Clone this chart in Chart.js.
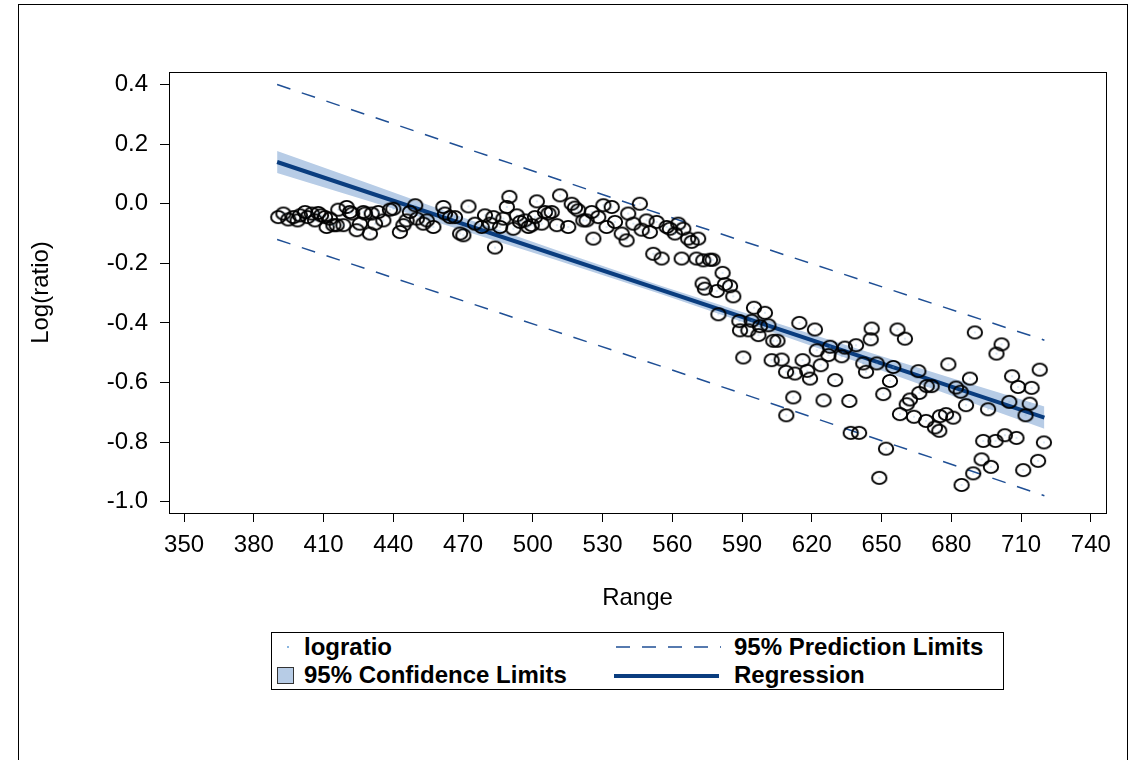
<!DOCTYPE html>
<html lang="en">
<head>
<meta charset="UTF-8">
<title>Log(ratio) vs Range</title>
<script src="https://cdn.jsdelivr.net/npm/chart.js"></script>
<style>
  body { margin: 0; width: 1129px; height: 760px; background: #fff; overflow: hidden; position: relative; font-family: "Liberation Sans", Arial, sans-serif; }
  #frame { position: absolute; left: 18px; top: 4px; width: 1108px; height: 780px; border: 1px solid #000; }
  #wrap { position: absolute; left: 0; top: 0; width: 1129px; height: 620px; }
  #legend { position: absolute; left: 271px; top: 632px; width: 731px; height: 56px; border: 1px solid #000; font-weight: bold; font-size: 24px; color: #000; }
  #legend .t { position: absolute; line-height: 26px; white-space: nowrap; }
  #legend .dot { position: absolute; left: 15px; top: 13px; width: 2px; height: 2px; background: #8ab6e0; }
  #legend .sw { position: absolute; left: 5px; top: 34px; width: 15px; height: 15px; background: #b7cce6; border: 1px solid #333; }
  #legend .reg { position: absolute; left: 342px; top: 41px; width: 105px; height: 4px; background: #0a3d7f; }
  #legend svg { position: absolute; left: 344px; top: 11px; }
</style>
</head>
<body>
<div id="frame"></div>
<div id="wrap"><canvas id="chart" width="1129" height="620"></canvas></div>
<div id="legend">
  <div class="dot"></div>
  <div class="t" style="left:32px;top:1px">logratio</div>
  <svg width="105" height="6"><line x1="0" y1="3" x2="105" y2="3" stroke="#1f4f95" stroke-width="1.5" stroke-dasharray="14,12"/></svg>
  <div class="t" style="left:462px;top:1px">95% Prediction Limits</div>
  <div class="sw"></div>
  <div class="t" style="left:32px;top:29px">95% Confidence Limits</div>
  <div class="reg"></div>
  <div class="t" style="left:462px;top:29px">Regression</div>
</div>
<script>
// observed points (Range, logratio)
const rangeX = [
  390.5, 392.7, 394.8, 397.0, 398.8, 399.8, 402.0, 403.1, 404.9, 406.3, 407.7, 408.9, 410.6, 411.3, 412.7,
  414.2, 415.6, 416.3, 418.5, 419.9, 421.3, 422.3, 424.2, 425.6, 427.1, 427.8, 429.9, 430.7, 432.1, 433.5,
  435.7, 438.5, 440.0, 442.8, 444.3, 445.7, 447.1, 449.4, 450.1, 452.9, 454.4, 457.2, 461.5, 462.2, 464.4,
  466.5, 468.7, 470.1, 472.3, 475.1, 478.0, 479.4, 481.6, 483.0, 483.7, 485.9, 487.3, 488.8, 489.9, 491.6,
  493.1, 494.5, 496.6, 498.1, 499.5, 500.9, 501.7, 503.8, 505.2, 506.7, 508.1, 510.3, 511.7, 515.2, 516.7,
  518.1, 519.5, 521.7, 523.1, 525.3, 526.0, 528.1, 530.3, 531.7, 533.9, 535.3, 538.2, 540.3, 541.0, 543.2,
  546.0, 546.8, 548.9, 550.3, 551.8, 553.2, 555.4, 557.5, 558.9, 561.1, 562.5, 564.0, 564.7, 566.8, 568.3,
  570.4, 571.1, 573.0, 573.3, 574.0, 576.2, 577.3, 579.1, 579.8, 581.6, 582.6, 584.8, 586.2, 588.8, 589.1,
  590.5, 592.7, 594.1, 595.1, 597.0, 597.7, 599.8, 601.3, 602.7, 603.4, 605.2, 607.0, 608.9, 609.0, 612.0,
  612.7, 614.6, 616.0, 618.0, 619.2, 621.3, 622.1, 623.8, 625.0, 627.1, 627.8, 630.0, 632.8, 634.2, 636.1,
  636.7, 639.0, 640.3, 642.1, 643.3, 645.3, 645.7, 647.9, 649.0, 650.7, 651.9, 653.6, 655.0, 656.8, 657.9,
  660.0, 660.8, 662.2, 663.9, 665.8, 666.2, 669.1, 669.4, 671.5, 672.9, 674.8, 675.1, 677.7, 678.7, 680.8,
  682.0, 684.0, 684.4, 686.3, 688.0, 689.4, 690.1, 693.0, 693.7, 695.8, 697.0, 699.0, 699.4, 701.6, 703.0,
  704.9, 706.1, 708.0, 708.7, 710.9, 711.9, 713.7, 714.5, 717.3, 718.0, 719.8
];
const logRatio = [
  -0.045, -0.033, -0.053, -0.045, -0.056, -0.039, -0.028, -0.045, -0.033, -0.056, -0.031, -0.039, -0.045, -0.078, -0.050,
  -0.072, -0.072, -0.020, -0.072, -0.011, -0.028, -0.033, -0.089, -0.067, -0.028, -0.033, -0.100, -0.033, -0.067, -0.028,
  -0.056, -0.020, -0.017, -0.095, -0.072, -0.056, -0.028, -0.005, -0.050, -0.067, -0.056, -0.078, -0.011, -0.033, -0.045,
  -0.045, -0.100, -0.106, -0.009, -0.067, -0.078, -0.039, -0.067, -0.045, -0.147, -0.078, -0.050, -0.011, 0.023, -0.084,
  -0.039, -0.061, -0.056, -0.078, -0.072, -0.045, 0.008, -0.067, -0.028, -0.033, -0.028, -0.072, 0.028, -0.078, 0.000,
  -0.013, -0.022, -0.056, -0.056, -0.028, -0.117, -0.045, -0.005, -0.078, -0.011, -0.061, -0.100, -0.123, -0.033, -0.067,
  0.000, -0.087, -0.056, -0.095, -0.168, -0.061, -0.184, -0.078, -0.084, -0.100, -0.067, -0.184, -0.084, -0.117, -0.128,
  -0.184, -0.117, -0.268, -0.190, -0.285, -0.188, -0.188, -0.293, -0.371, -0.232, -0.270, -0.277, -0.311, -0.394, -0.425,
  -0.516, -0.425, -0.393, -0.349, -0.441, -0.411, -0.366, -0.408, -0.525, -0.460, -0.460, -0.523, -0.564, -0.710, -0.650,
  -0.570, -0.400, -0.525, -0.561, -0.587, -0.422, -0.492, -0.542, -0.660, -0.508, -0.480, -0.592, -0.512, -0.483, -0.662,
  -0.769, -0.475, -0.769, -0.536, -0.564, -0.455, -0.419, -0.536, -0.920, -0.639, -0.822, -0.595, -0.548, -0.422, -0.706,
  -0.453, -0.673, -0.657, -0.715, -0.562, -0.635, -0.729, -0.612, -0.612, -0.751, -0.762, -0.713, -0.706, -0.539, -0.718,
  -0.617, -0.631, -0.944, -0.676, -0.587, -0.905, -0.432, -0.858, -0.796, -0.690, -0.883, -0.796, -0.503, -0.472, -0.777,
  -0.665, -0.579, -0.786, -0.615, -0.894, -0.710, -0.671, -0.618, -0.863, -0.557, -0.801
];

// fitted regression line
const fitX = [390, 720];
const fitY = [0.140, -0.718];

// 95% confidence band
const clmX = [390, 430, 470, 510, 555, 600, 640, 680, 720];
const clmUpper = [0.177, 0.066, -0.046, -0.155, -0.275, -0.389, -0.488, -0.585, -0.681];
const clmLower = [0.103, 0.007, -0.090, -0.189, -0.303, -0.423, -0.532, -0.644, -0.755];

// 95% prediction limits
const pliX = [390, 555, 720];
const pliUpper = [0.400, -0.035, -0.458];
const pliLower = [-0.120, -0.545, -0.980];

const xTicks = [350, 380, 410, 440, 470, 500, 530, 560, 590, 620, 650, 680, 710, 740];
const yTicks = [-1.0, -0.8, -0.6, -0.4, -0.2, 0.0, 0.2, 0.4];

const navy = "#0a3d7f";
const dashBlue = "#1f4f95";
const bandBlue = "#b7cce6";

function pairs(xs, ys) {
    return xs.map((x, i) => ({ x: x, y: ys[i] }));
}

// open ring marker with a tiny dot in the middle
function ringMarker() {
    const c = document.createElement("canvas");
    c.width = 18;
    c.height = 16;
    const g = c.getContext("2d");
    g.strokeStyle = "#000";
    g.lineWidth = 1.9;
    g.beginPath();
    g.ellipse(9, 8, 7.2, 6.1, 0, 0, Math.PI * 2);
    g.stroke();
    g.fillStyle = "#6fa8dc";
    g.fillRect(8.5, 7.5, 1, 1);
    return c;
}

const plotFrame = {
    id: "plotFrame",
    afterDraw(chart) {
        const a = chart.chartArea;
        const ctx = chart.ctx;
        ctx.save();
        ctx.strokeStyle = "#000";
        ctx.lineWidth = 1;
        ctx.strokeRect(Math.round(a.left) + 0.5, Math.round(a.top) + 0.5, Math.round(a.right - a.left), Math.round(a.bottom - a.top));
        ctx.restore();
    }
};

const tickFont = { family: "'Liberation Sans', Arial, sans-serif", size: 24 };
const titleFont = { family: "'Liberation Sans', Arial, sans-serif", size: 24 };

new Chart(document.getElementById("chart"), {
    type: "scatter",
    data: {
        datasets: [
            {
                label: "clmUpper", data: pairs(clmX, clmUpper), showLine: true, pointRadius: 0,
                borderWidth: 0, backgroundColor: bandBlue, fill: "+1", order: 4
            },
            {
                label: "clmLower", data: pairs(clmX, clmLower), showLine: true, pointRadius: 0,
                borderWidth: 0, backgroundColor: bandBlue, fill: false, order: 4
            },
            {
                label: "pliUpper", data: pairs(pliX, pliUpper), showLine: true, pointRadius: 0,
                borderColor: dashBlue, borderWidth: 1.5, borderDash: [14, 12], fill: false, order: 3
            },
            {
                label: "pliLower", data: pairs(pliX, pliLower), showLine: true, pointRadius: 0,
                borderColor: dashBlue, borderWidth: 1.5, borderDash: [14, 12], fill: false, order: 3
            },
            {
                label: "Regression", data: pairs(fitX, fitY), showLine: true, pointRadius: 0,
                borderColor: navy, borderWidth: 4, fill: false, order: 2
            },
            {
                label: "logratio", data: pairs(rangeX, logRatio), pointStyle: ringMarker(),
                pointRadius: 7, order: 1
            }
        ]
    },
    options: {
        responsive: false,
        devicePixelRatio: 1,
        animation: false,
        layout: { padding: { left: 18, top: 72, right: 23, bottom: 0 } },
        plugins: { legend: { display: false }, tooltip: { enabled: false } },
        scales: {
            x: {
                type: "linear", min: 343.5, max: 746.5,
                afterBuildTicks: s => { s.ticks = xTicks.map(v => ({ value: v })); },
                afterFit: s => { s.height = 107; },
                ticks: { color: "#000", font: tickFont, padding: 9, maxRotation: 0, callback: v => String(v) },
                grid: { drawOnChartArea: false, drawTicks: true, tickLength: 9, color: "#000" },
                border: { display: true, color: "#000" },
                title: { display: true, text: "Range", color: "#000", font: titleFont, padding: { top: 0, bottom: 7 } }
            },
            y: {
                type: "linear", min: -1.038, max: 0.442,
                afterBuildTicks: s => { s.ticks = yTicks.map(v => ({ value: v })); },
                afterFit: s => { s.width = 151; },
                ticks: { color: "#000", font: tickFont, padding: 12, callback: v => v.toFixed(1) },
                grid: { drawOnChartArea: false, drawTicks: true, tickLength: 9, color: "#000" },
                border: { display: true, color: "#000" },
                title: { display: true, text: "Log(ratio)", color: "#000", font: titleFont, padding: { top: 9, bottom: 0 } }
            }
        }
    },
    plugins: [plotFrame]
});
</script>
</body>
</html>
